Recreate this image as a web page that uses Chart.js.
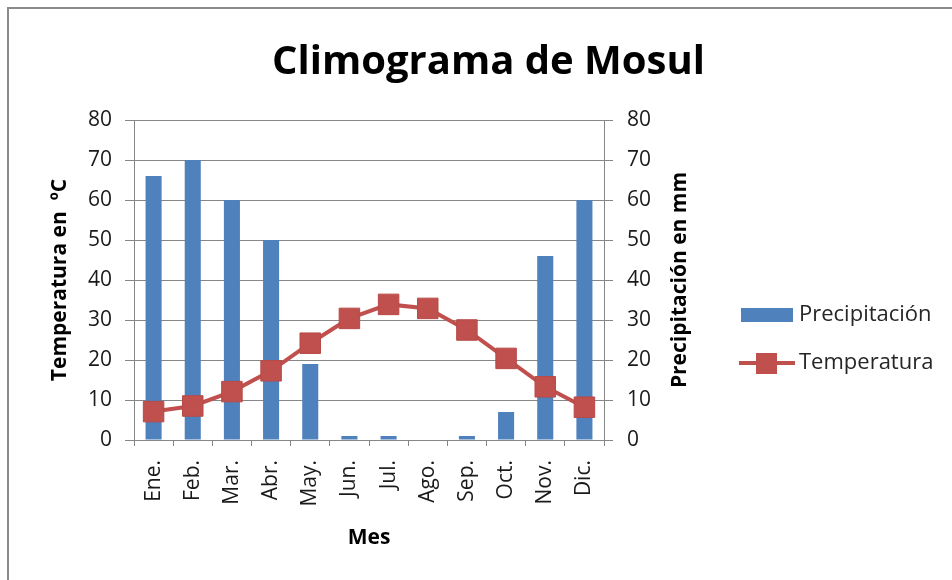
<!DOCTYPE html>
<html>
<head>
<meta charset="utf-8">
<script src="https://cdn.jsdelivr.net/npm/chart.js@4/dist/chart.umd.min.js"></script>
<style>
  body { margin: 0; background: #fff; }
  #frame {
    position: absolute; left: 7px; top: 7px;
    width: 943px; height: 571px;
    border-top: 2px solid #8a8a8a; border-left: 2px solid #8a8a8a;
  }
</style>
</head>
<body>
<div id="frame"><canvas id="myChart" width="943" height="571"></canvas></div>
<script>
const months = ['Ene.', 'Feb.', 'Mar.', 'Abr.', 'May.', 'Jun.', 'Jul.', 'Ago.', 'Sep.', 'Oct.', 'Nov.', 'Dic.'];
const precipitacion = [66, 70, 60, 50, 19, 1, 1, 0, 1, 7, 46, 60];
const temperatura = [7.1, 8.5, 12.1, 17.3, 24.2, 30.4, 33.9, 32.9, 27.5, 20.4, 13.3, 8.2];

const blue = '#4F81BD';
const red = '#C0504D';
const gridColor = '#878787';
const font = 'Open Sans';

// right axis title (reads bottom to top) and the spreadsheet-style legend
const extras = {
  id: 'extras',
  afterDraw(chart) {
    const ctx = chart.ctx, a = chart.chartArea;
    ctx.save();
    ctx.translate(a.right + 76, (a.top + a.bottom) / 2);
    ctx.rotate(-Math.PI / 2);
    ctx.font = 'bold 21px "' + font + '"';
    ctx.fillStyle = '#000';
    ctx.textAlign = 'center';
    ctx.textBaseline = 'middle';
    ctx.fillText('Precipitación en mm', 0, 0);
    ctx.restore();

    const x0 = a.right + 137, rows = [306, 354];
    ctx.save();
    ctx.font = '22px "' + font + '"';
    ctx.textBaseline = 'middle';
    chart.data.datasets.forEach((ds, i) => {
      const y = rows[i];
      if (ds.type === 'bar') {
        ctx.fillStyle = ds.backgroundColor;
        ctx.fillRect(x0, y - 7, 52, 14);
      } else {
        ctx.fillStyle = ds.borderColor;
        ctx.fillRect(x0 - 2, y - 2, 56, 4);
        ctx.fillRect(x0 + 15, y - 10, 21, 21);
      }
      ctx.fillStyle = '#262626';
      ctx.fillText(ds.label, x0 + 58, y);
    });
    ctx.restore();
  }
};

const ctx = document.getElementById('myChart').getContext('2d');
const myChart = new Chart(ctx, {
    type: 'bar',
    data: {
        labels: months,
        datasets: [{
            type: 'bar',
            label: 'Precipitación',
            data: precipitacion,
            yAxisID: 'yP',
            backgroundColor: blue,
            categoryPercentage: 1,
            barPercentage: 0.41,
            order: 1
        }, {
            type: 'line',
            label: 'Temperatura',
            data: temperatura,
            yAxisID: 'yT',
            borderColor: red,
            borderWidth: 4,
            pointStyle: 'rect',
            pointRadius: 14.5,
            pointBackgroundColor: red,
            pointBorderColor: '#B84A47',
            pointBorderWidth: 1,
            tension: 0,
            order: 0
        }]
    },
    options: {
        responsive: false,
        animation: false,
        layout: { padding: { left: 16, right: 0, top: 0, bottom: 0 } },
        scales: {
            x: {
                offset: true,
                grid: { offset: true, drawOnChartArea: false, drawTicks: true, tickLength: 6, color: gridColor },
                border: { color: gridColor },
                ticks: { minRotation: 90, maxRotation: 90, padding: 14, color: '#1a1a1a', font: { family: font, size: 21 } },
                title: { display: true, text: 'Mes', color: '#000', font: { family: font, size: 21, weight: 'bold' }, padding: { top: 0, bottom: 29 } },
                afterFit: (s) => { s.height = 140; }
            },
            yT: {
                position: 'left',
                min: 0, max: 80,
                ticks: { stepSize: 10, padding: 13, color: '#1a1a1a', font: { family: font, size: 21 } },
                grid: { color: gridColor, tickLength: 9 },
                border: { color: gridColor },
                title: { display: true, text: 'Temperatura en  ºC', color: '#000', font: { family: font, size: 21, weight: 'bold' }, padding: { top: 22, bottom: 0 } },
                afterFit: (s) => { s.width = 109; }
            },
            yP: {
                position: 'right',
                min: 0, max: 80,
                ticks: { stepSize: 10, padding: 14, color: '#1a1a1a', font: { family: font, size: 21 } },
                grid: { drawOnChartArea: false, color: gridColor, tickLength: 9 },
                border: { color: gridColor },
                afterFit: (s) => { s.width = 348; }
            }
        },
        plugins: {
            title: {
                display: true,
                text: 'Climograma de Mosul',
                color: '#000',
                font: { family: font, size: 40, weight: 'bold' },
                padding: { top: 30, bottom: 33 }
            },
            legend: { display: false },
            tooltip: { enabled: false }
        }
    },
    plugins: [extras]
});
</script>
</body>
</html>
